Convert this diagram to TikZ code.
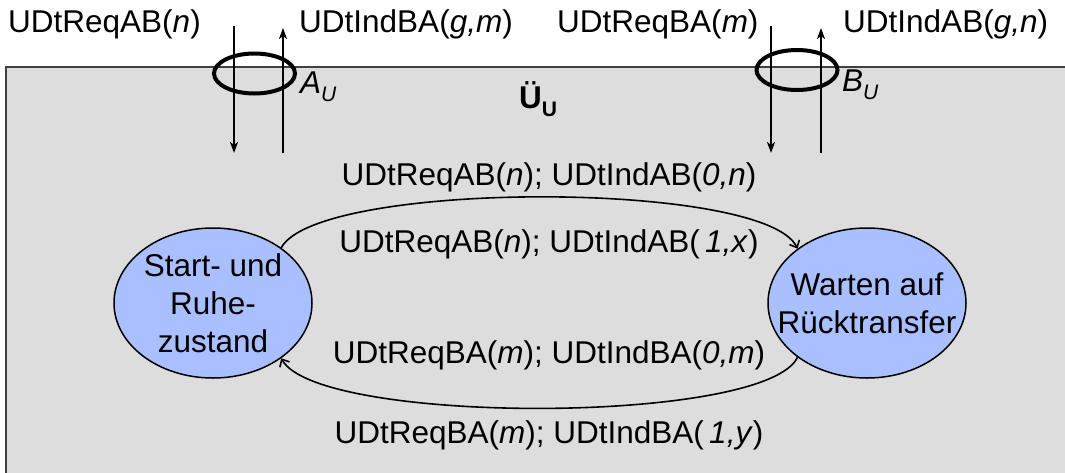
\documentclass[tikz,border=0pt]{standalone}
\usepackage{fontspec}
\setmainfont{Liberation Sans}
\usetikzlibrary{arrows.meta,shapes.geometric}
\definecolor{bgray}{HTML}{DDDDDD}
\definecolor{framec}{HTML}{404040}
\definecolor{stfill}{HTML}{AABFFF}
\newcommand{\subU}[1]{\raisebox{-8pt}{\fontsize{21}{21}\selectfont #1}}
\begin{document}
\begin{tikzpicture}[x=1pt,y=-1pt,
  font=\fontsize{31.5}{38}\selectfont,
  lbl/.style={inner sep=0pt, anchor=base west},
  clbl/.style={inner sep=0pt, anchor=base},
  ifell/.style={draw=black, line width=4pt, ellipse, inner sep=0pt, minimum width=81pt, minimum height=40pt},
  state/.style={draw=black, line width=1.5pt, fill=stfill, ellipse, inner sep=0pt, minimum width=198pt, minimum height=150pt},
  vline/.style={line width=2pt, -{Stealth[length=11pt,width=8pt,inset=3pt]}},
  trans/.style={line width=1.6pt, -{Straight Barb[length=6pt,width=11pt,line width=1.6pt]}}
]
\useasboundingbox (0,0) rectangle (1065,472);
\fill[bgray] (6,67) rectangle (1080,480);
\draw[framec, line width=2.5pt] (1080,67) -- (6,67) -- (6,480);

% top labels
\node[lbl] (t1) at (8,32) {UDtReqAB(\textit{n})};
\node[lbl] (t2) at (299,32) {UDtIndBA(\textit{g,m})};
\node[lbl] (t3) at (557,32) {UDtReqBA(\textit{m})};
\node[lbl] (t4) at (843,32) {UDtIndAB(\textit{g,n})};

% interface A
\node[ifell] (A) at (254.5,73.5) {};
\coordinate (a1) at (234,26);
\coordinate (a2) at (234,153);
\coordinate (a3) at (283,153);
\coordinate (a4) at (283,28);
\draw[vline] (a1) -- (a2);
\draw[vline] (a3) -- (a4);
\node[lbl] (AU) at (300,93) {\textit{A}\subU{\textit{U}}};

% interface B
\node[ifell] (B) at (797,70) {};
\coordinate (b1) at (771,26);
\coordinate (b2) at (771,153);
\coordinate (b3) at (821,153);
\coordinate (b4) at (821,28);
\draw[vline] (b1) -- (b2);
\draw[vline] (b3) -- (b4);
\node[lbl] (BU) at (842,91) {\textit{B}\subU{\textit{U}}};

% title
\node[lbl] (UE) at (519,108) {\textbf{Ü}\subU{\textbf{U}}};

% states
\node[state] (L) at (213,303) {};
\node[align=center, inner sep=0pt] (Lt) at (L) {Start- und\\Ruhe-\\zustand};
\node[state] (R) at (867,303) {};
\node[align=center, inner sep=0pt] (Rt) at (R) {Warten auf\\Rücktransfer};

% transitions
\draw[trans] (L.39) .. controls (318,180) and (765,180) .. (R.142);
\draw[trans] (R.218) .. controls (765,425) and (318,425) .. (L.321);

\node[clbl] (c1) at (549,185) {UDtReqAB(\textit{n}); UDtIndAB(\textit{0,n})};
\node[clbl] (c2) at (549,252) {UDtReqAB(\textit{n}); UDtIndAB(\textit{\,1,x})};
\node[clbl] (c3) at (549,363) {UDtReqBA(\textit{m}); UDtIndBA(\textit{0,m})};
\node[clbl] (c4) at (549,443) {UDtReqBA(\textit{m}); UDtIndBA(\textit{\,1,y})};
\end{tikzpicture}
\end{document}
